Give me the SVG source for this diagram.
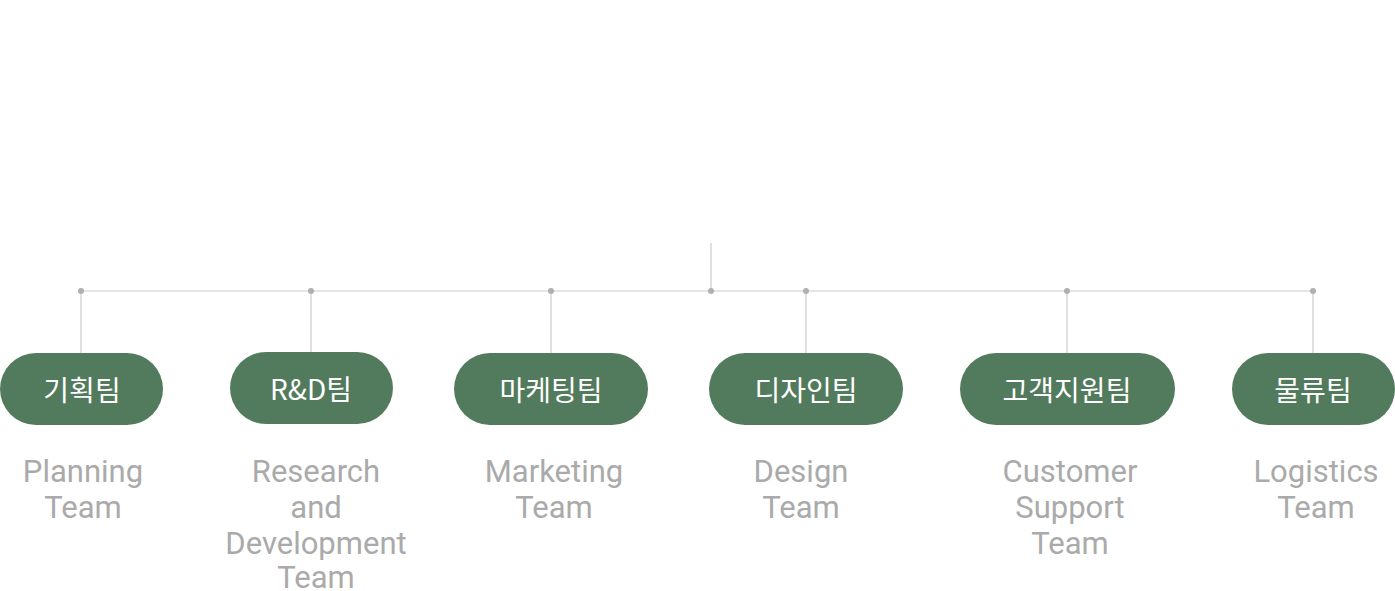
<svg xmlns="http://www.w3.org/2000/svg" width="1395" height="591" viewBox="0 0 1395 591">
<style>
.pill{fill:#527a5c}
.kr{font-family:"Noto Sans CJK KR","Roboto",sans-serif;font-size:28px;font-weight:400;fill:#ffffff;text-anchor:middle;dominant-baseline:central}
.en{font-family:"Roboto","Noto Sans",sans-serif;font-size:31px;fill:#aaaaaa;text-anchor:middle}
.ln{stroke:#cccccc;stroke-width:1.2;fill:none}
.dot{fill:#b0b0b0}
</style>
<rect width="1395" height="591" fill="#ffffff"/>
<g id="connectors">
<path class="ln" d="M711 243V291M81 291H1313M81 291V353M311 291V352M551 291V353M806 291V353M1067 291V353M1313 291V353"/>
<circle class="dot" cx="81" cy="291" r="3"/>
<circle class="dot" cx="311" cy="291" r="3"/>
<circle class="dot" cx="551" cy="291" r="3"/>
<circle class="dot" cx="711" cy="291" r="3"/>
<circle class="dot" cx="806" cy="291" r="3"/>
<circle class="dot" cx="1067" cy="291" r="3"/>
<circle class="dot" cx="1313" cy="291" r="3"/>
</g>
<g id="planning">
<rect class="pill" x="0" y="353" width="163" height="72" rx="36"/>
<text class="kr" x="82" y="389">기획팀</text>
<text class="en" x="83" y="482">Planning</text>
<text class="en" x="83" y="518">Team</text>
</g>
<g id="rnd">
<rect class="pill" x="230" y="352" width="163" height="72" rx="36"/>
<text class="kr" x="311" y="388">R&amp;D팀</text>
<text class="en" x="316" y="482">Research</text>
<text class="en" x="316" y="518">and</text>
<text class="en" x="316" y="554">Development</text>
<text class="en" x="316" y="588">Team</text>
</g>
<g id="marketing">
<rect class="pill" x="454" y="353" width="194" height="72" rx="36"/>
<text class="kr" x="551" y="389">마케팅팀</text>
<text class="en" x="554" y="482">Marketing</text>
<text class="en" x="554" y="518">Team</text>
</g>
<g id="design">
<rect class="pill" x="709" y="353" width="194" height="72" rx="36"/>
<text class="kr" x="806" y="389">디자인팀</text>
<text class="en" x="801" y="482">Design</text>
<text class="en" x="801" y="518">Team</text>
</g>
<g id="support">
<rect class="pill" x="960" y="353" width="215" height="72" rx="36"/>
<text class="kr" x="1067" y="389">고객지원팀</text>
<text class="en" x="1070" y="482">Customer</text>
<text class="en" x="1070" y="518">Support</text>
<text class="en" x="1070" y="554">Team</text>
</g>
<g id="logistics">
<rect class="pill" x="1232" y="353" width="163" height="72" rx="36"/>
<text class="kr" x="1313" y="389">물류팀</text>
<text class="en" x="1316" y="482">Logistics</text>
<text class="en" x="1316" y="518">Team</text>
</g>
</svg>
